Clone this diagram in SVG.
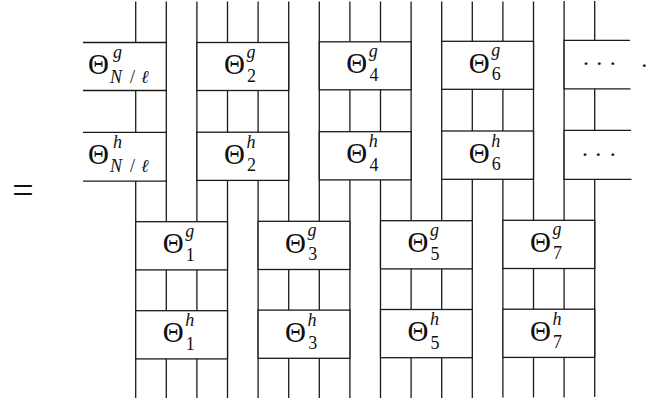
<svg xmlns="http://www.w3.org/2000/svg" width="662" height="403" viewBox="0 0 662 403" font-family="'Liberation Serif', 'DejaVu Serif', serif">
<style>
.w{stroke:#1a1a1a;stroke-width:1.3;fill:none}
.b{fill:#fff;stroke:#1a1a1a;stroke-width:1.3}
.f{fill:#fff;stroke:none}
.e{fill:none;stroke:#1a1a1a;stroke-width:1.3}
text{fill:#111}
.th{font-size:29px}
.sp{font-size:18px;font-style:italic}
.sb{font-size:18px}
.dt{font-size:24px}
</style>
<rect width="662" height="403" fill="#fff"/>
<g id="connectors" class="w">
<line x1="135.7" y1="1.5" x2="135.7" y2="398"/>
<line x1="166.3" y1="1.5" x2="166.3" y2="398"/>
<line x1="196.9" y1="1.5" x2="196.9" y2="398"/>
<line x1="227.5" y1="1.5" x2="227.5" y2="398"/>
<line x1="258.1" y1="1.5" x2="258.1" y2="398"/>
<line x1="288.7" y1="1.5" x2="288.7" y2="398"/>
<line x1="319.3" y1="1.5" x2="319.3" y2="398"/>
<line x1="349.9" y1="1.5" x2="349.9" y2="398"/>
<line x1="380.5" y1="1.5" x2="380.5" y2="398"/>
<line x1="411.1" y1="1.5" x2="411.1" y2="398"/>
<line x1="441.7" y1="1.5" x2="441.7" y2="398"/>
<line x1="472.3" y1="1.5" x2="472.3" y2="398"/>
<line x1="502.9" y1="1.5" x2="502.9" y2="397.5"/>
<line x1="533.5" y1="1.5" x2="533.5" y2="397.5"/>
<line x1="564.1" y1="1" x2="564.1" y2="397.5"/>
<line x1="594.7" y1="1" x2="594.7" y2="397"/>
</g>
<text x="23" y="203" font-size="38" text-anchor="middle">=</text>
<g id="theta-NL-g">
<rect class="f" x="83" y="42.5" width="83.3" height="48"/>
<path class="e" d="M83 42.5H166.3V90.5H83"/>
<text class="th" x="88" y="74">Θ</text>
<text class="sp" x="113" y="57.5">g</text>
<text class="sb" y="82.5"><tspan x="110" font-style="italic">N</tspan><tspan x="130">/</tspan><tspan x="141" font-style="italic">ℓ</tspan></text>
</g>
<g id="theta-2-g">
<rect class="b" x="196.9" y="42.5" width="91.8" height="48"/>
<text class="th" x="223.9" y="74">Θ</text>
<text class="sp" x="246.4" y="57.5">g</text>
<text class="sb" x="247" y="81.5">2</text>
</g>
<g id="theta-4-g">
<rect class="b" x="319.3" y="41.8" width="91.8" height="48"/>
<text class="th" x="346.3" y="73.3">Θ</text>
<text class="sp" x="368.8" y="56.8">g</text>
<text class="sb" x="369.4" y="80.8">4</text>
</g>
<g id="theta-6-g">
<rect class="b" x="441.7" y="41.3" width="91.8" height="48"/>
<text class="th" x="468.7" y="72.8">Θ</text>
<text class="sp" x="491.2" y="56.3">g</text>
<text class="sb" x="491.8" y="80.3">6</text>
</g>
<g id="dots-g">
<rect class="f" x="564.1" y="40.3" width="66" height="48.5"/>
<path class="e" d="M630 40.3H564.1V88.8H630.5"/>
<text class="dt" text-anchor="middle"><tspan x="586" y="71">·</tspan><tspan x="599.3" y="71">·</tspan><tspan x="612.7" y="71">·</tspan></text>
</g>
<text class="dt" x="644.3" y="66.5" text-anchor="middle">.</text>
<g id="theta-NL-h">
<rect class="f" x="83" y="132.3" width="83.3" height="48.8"/>
<path class="e" d="M83 132.3H166.3V181.1H83"/>
<text class="th" x="88" y="163.8">Θ</text>
<text class="sp" x="113" y="147.8">h</text>
<text class="sb" y="172.3"><tspan x="110" font-style="italic">N</tspan><tspan x="130">/</tspan><tspan x="141" font-style="italic">ℓ</tspan></text>
</g>
<g id="theta-2-h">
<rect class="b" x="196.9" y="132.2" width="91.8" height="48.2"/>
<text class="th" x="223.9" y="163.7">Θ</text>
<text class="sp" x="246.4" y="147.7">h</text>
<text class="sb" x="247" y="171.2">2</text>
</g>
<g id="theta-4-h">
<rect class="b" x="319.3" y="131.7" width="91.8" height="48.2"/>
<text class="th" x="346.3" y="163.2">Θ</text>
<text class="sp" x="368.8" y="147.2">h</text>
<text class="sb" x="369.4" y="170.7">4</text>
</g>
<g id="theta-6-h">
<rect class="b" x="441.7" y="131" width="91.8" height="48.3"/>
<text class="th" x="468.7" y="162.5">Θ</text>
<text class="sp" x="491.2" y="146.5">h</text>
<text class="sb" x="491.8" y="170">6</text>
</g>
<g id="dots-h">
<rect class="f" x="564.1" y="130.3" width="67" height="49"/>
<path class="e" d="M631 130.3H564.1V179.3H631.5"/>
<text class="dt" text-anchor="middle"><tspan x="585" y="161.5">·</tspan><tspan x="598.3" y="161.5">·</tspan><tspan x="612.7" y="161.5">·</tspan></text>
</g>
<g id="theta-1-g">
<rect class="b" x="135.7" y="221.7" width="91.8" height="48.2"/>
<text class="th" x="162.7" y="253.2">Θ</text>
<text class="sp" x="185.2" y="236.7">g</text>
<text class="sb" x="185.8" y="260.7">1</text>
</g>
<g id="theta-3-g">
<rect class="b" x="258.1" y="221.3" width="91.8" height="48.2"/>
<text class="th" x="285.1" y="252.8">Θ</text>
<text class="sp" x="307.6" y="236.3">g</text>
<text class="sb" x="308.2" y="260.3">3</text>
</g>
<g id="theta-5-g">
<rect class="b" x="380.5" y="220.7" width="91.8" height="48.2"/>
<text class="th" x="407.5" y="252.2">Θ</text>
<text class="sp" x="430" y="235.7">g</text>
<text class="sb" x="430.6" y="259.7">5</text>
</g>
<g id="theta-7-g">
<rect class="b" x="502.9" y="220.3" width="91.8" height="48.2"/>
<text class="th" x="529.9" y="251.8">Θ</text>
<text class="sp" x="552.4" y="235.3">g</text>
<text class="sb" x="553" y="259.3">7</text>
</g>
<g id="theta-1-h">
<rect class="b" x="135.7" y="310.7" width="91.8" height="48.2"/>
<text class="th" x="162.7" y="342.2">Θ</text>
<text class="sp" x="185.2" y="326.2">h</text>
<text class="sb" x="185.8" y="349.7">1</text>
</g>
<g id="theta-3-h">
<rect class="b" x="258.1" y="310.1" width="91.8" height="48.2"/>
<text class="th" x="285.1" y="341.6">Θ</text>
<text class="sp" x="307.6" y="325.6">h</text>
<text class="sb" x="308.2" y="349.1">3</text>
</g>
<g id="theta-5-h">
<rect class="b" x="380.5" y="309.5" width="91.8" height="48.2"/>
<text class="th" x="407.5" y="341">Θ</text>
<text class="sp" x="430" y="325">h</text>
<text class="sb" x="430.6" y="348.5">5</text>
</g>
<g id="theta-7-h">
<rect class="b" x="502.9" y="309.2" width="91.8" height="48.2"/>
<text class="th" x="529.9" y="340.7">Θ</text>
<text class="sp" x="552.4" y="324.7">h</text>
<text class="sb" x="553" y="348.2">7</text>
</g>
</svg>
